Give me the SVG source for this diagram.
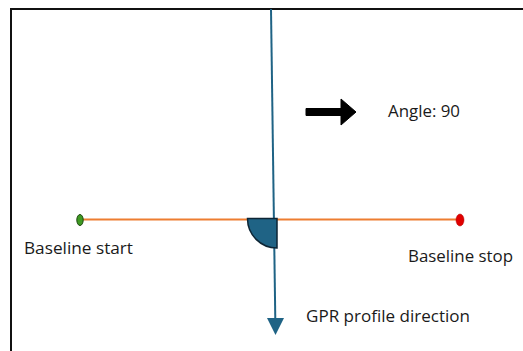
<svg xmlns="http://www.w3.org/2000/svg" width="523" height="351" viewBox="0 0 523 351">
<style>
text{font-family:"Open Sans","Liberation Sans",sans-serif;font-size:16.5px;fill:#1a1a1a}
</style>
<rect width="523" height="351" fill="#fff"/>
<g id="frame"><path d="M11,351 V9 H523" fill="none" stroke="#111" stroke-width="2"/></g>
<g id="connectors">
<line x1="80" y1="219.5" x2="460" y2="219.5" stroke="#ED7D31" stroke-width="2"/>
<line x1="271" y1="9" x2="275.3" y2="320" stroke="#1F6385" stroke-width="2"/>
<polygon points="267,318 284,318 275.5,335" fill="#1F6385"/>
</g>
<g id="angle-marker"><path d="M247.5,218.5 L277,218.5 L277,248 A29.5,29.5 0 0,1 247.5,218.5 Z" fill="#1F6385" stroke="#0d2535" stroke-width="1.5"/></g>
<g id="baseline-start"><ellipse cx="80" cy="220" rx="3.2" ry="5.5" fill="#3f9a22" stroke="#1d4a10" stroke-width="1"/><text x="24" y="254" textLength="109" lengthAdjust="spacingAndGlyphs">Baseline start</text></g>
<g id="baseline-stop"><ellipse cx="460" cy="220" rx="4" ry="6" fill="#e00000" stroke="#b00000" stroke-width="0.5"/><text x="408" y="262" textLength="105" lengthAdjust="spacingAndGlyphs">Baseline stop</text></g>
<g id="direction-arrow"><path d="M306,108.5 H341 V99 L356,112 L341,125 V115.5 H306 Z" fill="#000" stroke="#000" stroke-width="1" stroke-linejoin="round"/></g>
<g id="angle-label"><text x="388" y="117" textLength="72" lengthAdjust="spacingAndGlyphs">Angle: 90</text></g>
<g id="gpr-label"><text x="306" y="322" textLength="164" lengthAdjust="spacingAndGlyphs">GPR profile direction</text></g>
</svg>
